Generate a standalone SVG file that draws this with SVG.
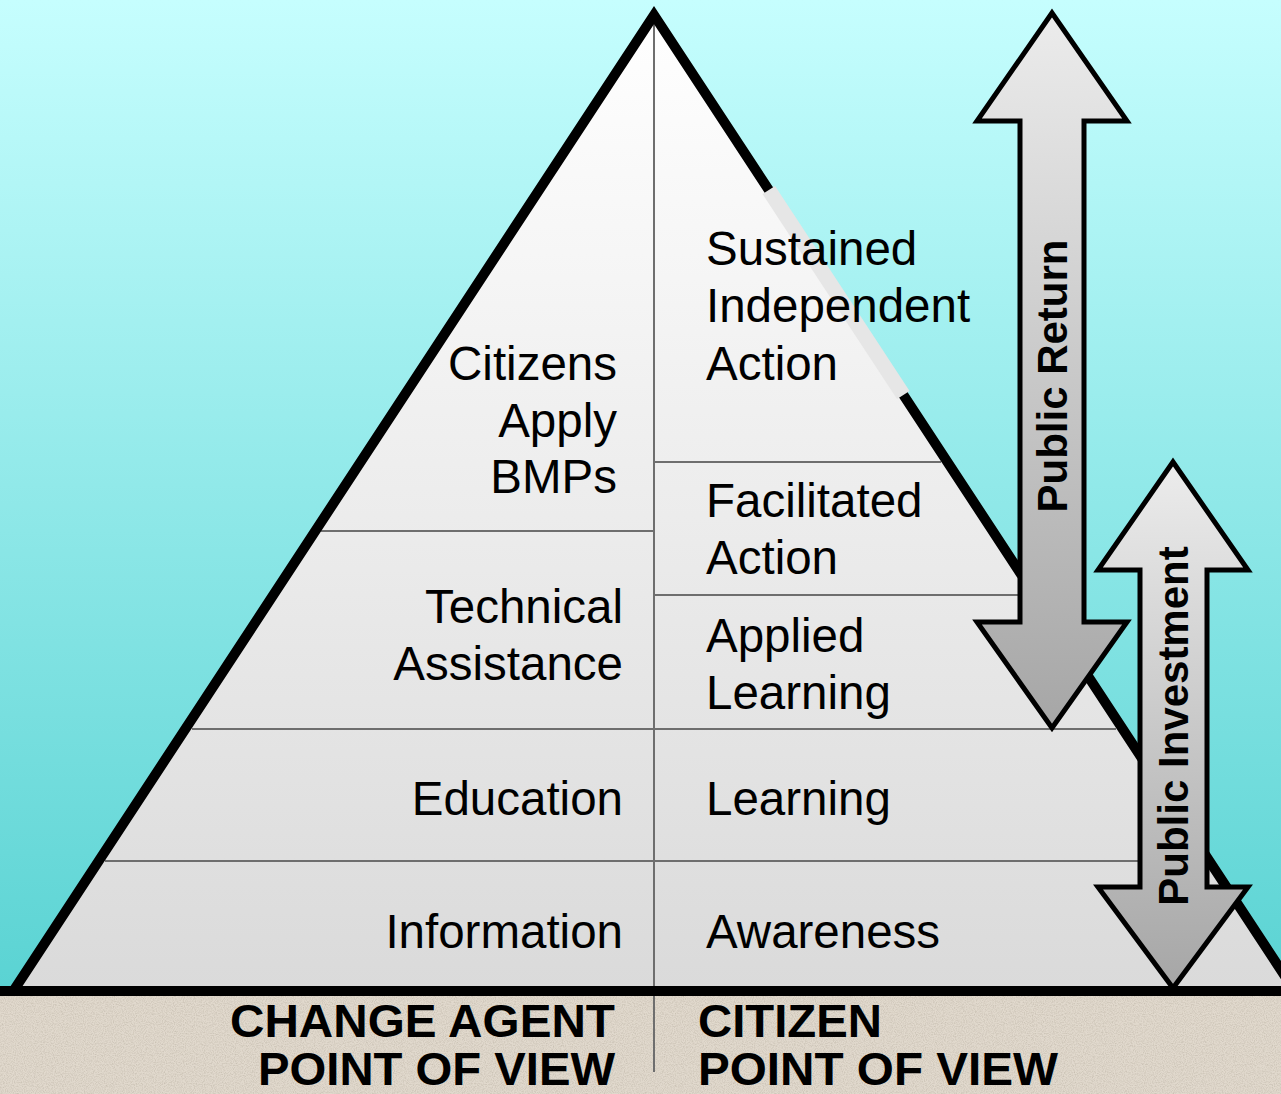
<svg xmlns="http://www.w3.org/2000/svg" width="1281" height="1094" viewBox="0 0 1281 1094">
  <defs>
    <linearGradient id="bg" x1="0" y1="0" x2="0" y2="990" gradientUnits="userSpaceOnUse">
      <stop offset="0" stop-color="#c6fefe"/>
      <stop offset="1" stop-color="#5ad3d3"/>
    </linearGradient>
    <linearGradient id="pyr" x1="0" y1="15" x2="0" y2="990" gradientUnits="userSpaceOnUse">
      <stop offset="0" stop-color="#ffffff"/>
      <stop offset="1" stop-color="#dadada"/>
    </linearGradient>
    <linearGradient id="arr" x1="0" y1="0" x2="0" y2="1">
      <stop offset="0" stop-color="#ececec"/>
      <stop offset="1" stop-color="#a6a6a6"/>
    </linearGradient>
    <filter id="grain" x="0" y="0" width="100%" height="100%">
      <feTurbulence type="fractalNoise" baseFrequency="0.9" numOctaves="2" seed="3" result="n"/>
      <feColorMatrix in="n" type="matrix" values="0 0 0 0 0.55  0 0 0 0 0.5  0 0 0 0 0.42  0 0 0 -1.6 1.0" result="c"/>
      <feComposite in="c" in2="SourceGraphic" operator="in" result="t"/>
      <feMerge><feMergeNode in="SourceGraphic"/><feMergeNode in="t"/></feMerge>
    </filter>
    <style>
      .div { stroke: #6e6e6e; stroke-width: 2; fill: none; }
      .lbl { font-family: "Liberation Sans", Arial, sans-serif; font-size: 47.5px; fill: #000; }
      .r { text-anchor: end; }
      .bold { font-family: "Liberation Sans", Arial, sans-serif; font-weight: bold; font-size: 46px; fill: #000; }
      .arrow { fill: url(#arr); stroke: #000; stroke-width: 5; stroke-linejoin: miter; }
      .atext { font-family: "Liberation Sans", Arial, sans-serif; font-weight: bold; font-size: 42px; fill: #000; text-anchor: middle; }
    </style>
  </defs>

  <g id="background">
    <rect x="0" y="0" width="1281" height="992" fill="url(#bg)"/>
    <rect x="0" y="990" width="1281" height="104" fill="#e1d9cd" filter="url(#grain)"/>
  </g>

  <g id="pyramid">
    <polygon points="654,15 14,990 1294,990" fill="url(#pyr)"/>
    <line class="div" x1="321" y1="531" x2="654" y2="531"/>
    <line class="div" x1="192" y1="729" x2="1116" y2="729"/>
    <line class="div" x1="105" y1="861" x2="1203" y2="861"/>
    <line class="div" x1="654" y1="462" x2="941" y2="462"/>
    <line class="div" x1="654" y1="595" x2="1028" y2="595"/>
    <line class="div" x1="654" y1="20" x2="654" y2="1072"/>
    <path d="M14,990 L654,15 L1294,990" fill="none" stroke="#000" stroke-width="10" stroke-linejoin="miter" stroke-miterlimit="10"/>
    <line x1="768.8" y1="190" x2="903.3" y2="395" stroke="#e6e6e6" stroke-width="15"/>
    <rect x="0" y="986" width="1281" height="10" fill="#000"/>
  </g>

  <g id="left-labels">
    <text class="lbl r" x="617" y="380">Citizens</text>
    <text class="lbl r" x="617" y="437">Apply</text>
    <text class="lbl r" x="617" y="493">BMPs</text>
    <text class="lbl r" x="623" y="623">Technical</text>
    <text class="lbl r" x="623" y="680">Assistance</text>
    <text class="lbl r" x="623" y="815">Education</text>
    <text class="lbl r" x="623" y="948">Information</text>
  </g>

  <g id="right-labels">
    <text class="lbl" x="706" y="265">Sustained</text>
    <text class="lbl" x="706" y="322">Independent</text>
    <text class="lbl" x="706" y="380">Action</text>
    <text class="lbl" x="706" y="517">Facilitated</text>
    <text class="lbl" x="706" y="574">Action</text>
    <text class="lbl" x="706" y="652">Applied</text>
    <text class="lbl" x="706" y="709">Learning</text>
    <text class="lbl" x="706" y="815">Learning</text>
    <text class="lbl" x="706" y="948">Awareness</text>
  </g>

  <g id="viewpoints">
    <text class="bold" x="230" y="1037" textLength="385" lengthAdjust="spacingAndGlyphs">CHANGE AGENT</text>
    <text class="bold" x="258" y="1085" textLength="357" lengthAdjust="spacingAndGlyphs">POINT OF VIEW</text>
    <text class="bold" x="698" y="1037" textLength="184" lengthAdjust="spacingAndGlyphs">CITIZEN</text>
    <text class="bold" x="698" y="1085" textLength="360" lengthAdjust="spacingAndGlyphs">POINT OF VIEW</text>
  </g>

  <g id="connectors">
    <g id="public-return">
      <polygon class="arrow" points="1052,13 1127,121 1084,121 1084,622 1127,622 1052,728 977,622 1020,622 1020,121 977,121"/>
      <text class="atext" transform="translate(1067,376) rotate(-90)" x="0" y="0">Public Return</text>
    </g>
    <g id="public-investment">
      <polygon class="arrow" points="1173,462 1248,570 1207,570 1207,887 1248,887 1173,988 1098,887 1140,887 1140,570 1098,570"/>
      <text class="atext" transform="translate(1188,726) rotate(-90)" x="0" y="0">Public Investment</text>
    </g>
  </g>
</svg>
